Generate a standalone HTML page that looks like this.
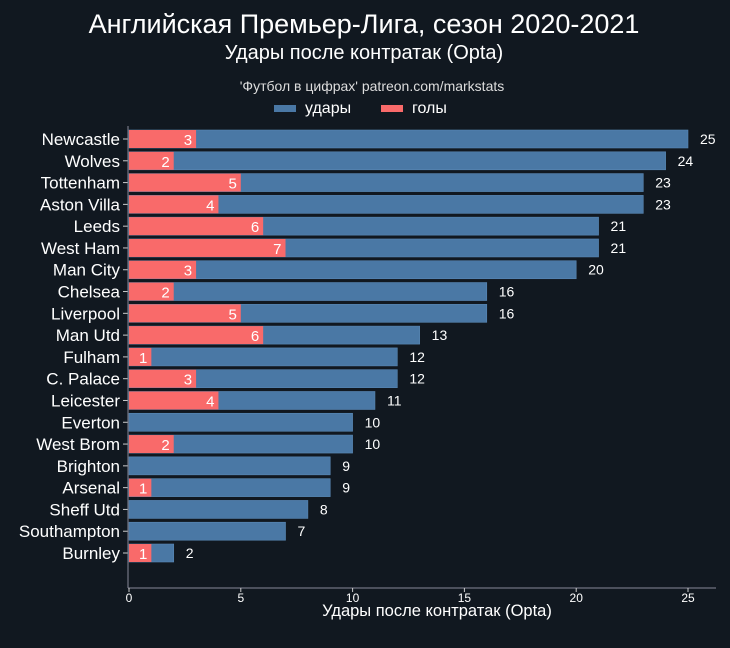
<!DOCTYPE html>
<html><head><meta charset="utf-8"><style>
html,body{margin:0;padding:0;background:#111820;}
svg{display:block;font-family:"Liberation Sans",sans-serif;}
</style></head><body>
<svg id="chart" width="730" height="648" viewBox="0 0 730 648">
<rect width="730" height="648" fill="#111820"/>
<text x="364" y="33" text-anchor="middle" fill="#fff" font-size="27">Английская Премьер-Лига, сезон 2020-2021</text>
<text x="364" y="59" text-anchor="middle" fill="#fff" font-size="20">Удары после контратак (Opta)</text>
<text x="372" y="91" text-anchor="middle" fill="#ddd" font-size="14">'Футбол в цифрах' patreon.com/markstats</text>
<g>
<rect x="274" y="105" width="22" height="7" fill="#4a78a5"/>
<text x="305" y="113" fill="#fff" font-size="16">удары</text>
<rect x="381" y="105" width="22" height="7" fill="#f96a6a"/>
<text x="412" y="113" fill="#fff" font-size="16">голы</text>
</g>
<g id="plot"></g>
</svg>
<script>
const teams=["Newcastle","Wolves","Tottenham","Aston Villa","Leeds","West Ham","Man City","Chelsea","Liverpool","Man Utd","Fulham","C. Palace","Leicester","Everton","West Brom","Brighton","Arsenal","Sheff Utd","Southampton","Burnley"];
const shots=[25,24,23,23,21,21,20,16,16,13,12,12,11,10,10,9,9,8,7,2];
const goals=[3,2,5,4,6,7,3,2,5,6,1,3,4,0,2,0,1,0,0,1];
const ticks=[0,5,10,15,20,25];
const NS="http://www.w3.org/2000/svg";
const g=document.getElementById('plot');
const x0=129,unit=(688-129)/25;
const xs=v=>x0+v*unit;
const ys=i=>139+i*21.79;
function mk(t,a){const e=document.createElementNS(NS,t);for(const k in a)e.setAttribute(k,a[k]);g.appendChild(e);return e;}
teams.forEach((t,i)=>{
 const y=ys(i);
 const b=mk('rect',{x:xs(0),y:y-9,width:xs(shots[i])-xs(0),height:18,fill:'#4a78a5',stroke:'#5a88b5','stroke-width':0.6});
 
 
 if(goals[i]>0){
  const r=mk('rect',{x:xs(0),y:y-9,width:xs(goals[i])-xs(0),height:18,fill:'#f96a6a'});
  
  
  const gt=mk('text',{x:xs(goals[i])-4,y:y+6,'text-anchor':'end',fill:'#fff','font-size':15});
  gt.textContent=goals[i];
  
  
 }
 const st=mk('text',{x:xs(shots[i])+12,y:y+5,fill:'#fff','font-size':14});
 st.textContent=shots[i];
 
 
 const lb=mk('text',{x:120,y:y+6,'text-anchor':'end',fill:'#fff','font-size':17});
 lb.textContent=t;
 
 
 const tk=mk('line',{x1:123,x2:128,y1:y,y2:y,stroke:'#ccc','stroke-width':1});
 
 
});
const ax=mk('line',{x1:128,x2:716,y1:588,y2:588,stroke:'#889','stroke-width':1});


const ay=mk('line',{x1:128,x2:128,y1:126,y2:588,stroke:'#889','stroke-width':1});


ticks.forEach(v=>{
 const l=mk('line',{x1:xs(v),x2:xs(v),y1:588,y2:592,stroke:'#ccc'});
 
 
 const t=mk('text',{x:xs(v),y:602,'text-anchor':'middle',fill:'#fff','font-size':12});
 t.textContent=v;
 
 
});
const xt=mk('text',{x:437,y:616,'text-anchor':'middle',fill:'#fff','font-size':16.5});
xt.textContent='Удары после контратак (Opta)';


</script>
</body></html>
